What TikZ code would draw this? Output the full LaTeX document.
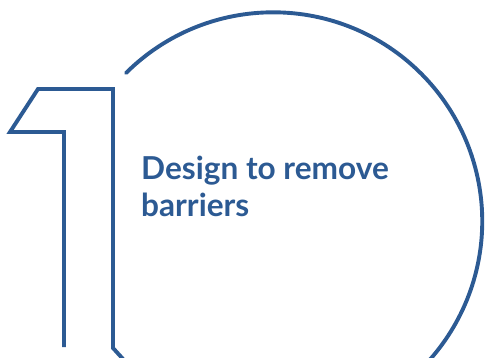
\documentclass[tikz,border=0pt]{standalone}
\usepackage{fontspec}
\setmainfont{Lato}
\definecolor{barblue}{HTML}{2C5A93}
\tikzset{outline/.style={draw=barblue, line width=3.9pt, line join=miter}}
\begin{document}
\begin{tikzpicture}[x=1pt,y=1pt]
    \clip (0,0) rectangle (485,357);
    % the one
    \draw[outline] (64,10) -- (64,225) -- (10,225) -- (38,268) -- (113,268) -- (113,9) -- (123,-2);
    % the nought
    \draw[outline, line cap=round] (126,284) arc[start angle=134.8, end angle=-60, radius=209];
    \node[anchor=base west, align=left, text=barblue, font=\fontsize{31.6}{37}\selectfont\bfseries, inner sep=0] (title) at (141,141) {Design to remove\\barriers};
\end{tikzpicture}
\end{document}
